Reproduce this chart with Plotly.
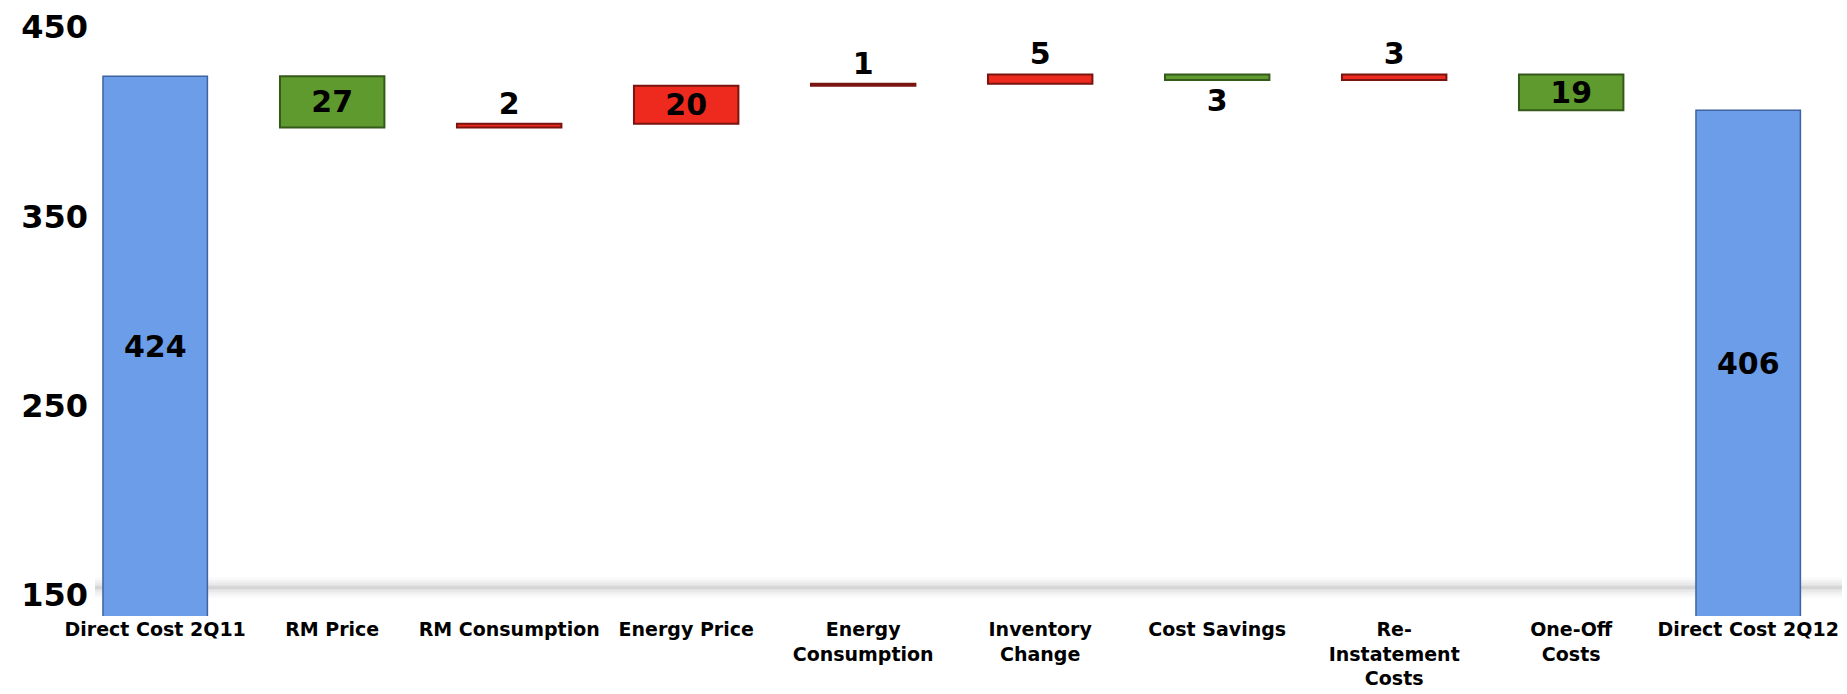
import plotly.graph_objects as go

# Cost bridge from 2Q11 to 2Q12
categories = [
    "Direct Cost 2Q11", "RM Price", "RM Consumption", "Energy Price",
    "Energy<br>Consumption", "Inventory<br>Change", "Cost Savings",
    "Re-<br>Instatement<br>Costs", "One-Off<br>Costs", "Direct Cost 2Q12",
]
measures = ["absolute", "relative", "relative", "relative", "relative",
            "relative", "relative", "relative", "relative", "total"]
values = [424, -27, 2, 20, 1, 5, -3, 3, -19, 406]
label_positions = ["none", "inside", "outside", "inside", "outside",
                   "outside", "outside", "outside", "inside", "none"]

y_ticks = [150, 250, 350, 450]
y_range = [139, 459]

BLUE = "#6b9de8"
GREEN = "#5f9a2e"
RED = "#ee2a1e"
FONT = "DejaVu Sans"
LABEL_FONT = dict(family=FONT, size=30, color="black", weight="bold")

labels = [str(abs(v)) for v in values]

fig = go.Figure(go.Waterfall(
    x=categories,
    y=values,
    measure=measures,
    text=labels,
    textposition=label_positions,
    insidetextanchor="middle",
    constraintext="none",
    cliponaxis=False,
    textfont=LABEL_FONT,
    connector=dict(visible=False),
    increasing=dict(marker=dict(color=RED, line=dict(color="#7a1410", width=2))),
    decreasing=dict(marker=dict(color=GREEN, line=dict(color="#35591a", width=2))),
    totals=dict(marker=dict(color=BLUE, line=dict(color="#3f63a0", width=1.5))),
    hoverinfo="x+y",
))

# total labels centred on the visible part of the bar
annotations = []
for cat, m, v in zip(categories, measures, values):
    if m in ("absolute", "total"):
        annotations.append(dict(x=cat, y=(y_range[0] + v) / 2, xref="x", yref="y",
                                text=str(v), showarrow=False, font=LABEL_FONT))

# soft floor shadow behind the bars
shadow = []
for lo, hi, op in [(148.5, 159.5, 0.04), (150, 158, 0.06), (151.5, 156.5, 0.08),
                   (152.8, 155.2, 0.10), (153.5, 154.5, 0.10)]:
    shadow.append(dict(type="rect", xref="paper", yref="y", x0=0.0, x1=1.0,
                       y0=lo, y1=hi, fillcolor="#7a7a7a", opacity=op,
                       line=dict(width=0), layer="below"))

fig.update_layout(
    width=1847, height=694,
    margin=dict(l=95, r=5, t=10, b=76),
    paper_bgcolor="white", plot_bgcolor="white",
    showlegend=False,
    waterfallgap=0.41,
    shapes=shadow,
    annotations=annotations,
    font=dict(family=FONT, color="black"),
    xaxis=dict(
        range=[-0.34, 9.53],
        showgrid=False, showline=False, zeroline=False, ticks="",
        tickfont=dict(family=FONT, size=19, color="black", weight="bold"),
        tickangle=0,
    ),
    yaxis=dict(
        range=y_range,
        tickvals=y_ticks,
        showgrid=False, showline=False, zeroline=False, ticks="",
        tickfont=dict(family=FONT, size=32, color="black", weight="bold"),
        ticklabelstandoff=6,
    ),
)

fig.write_html("out.html")
